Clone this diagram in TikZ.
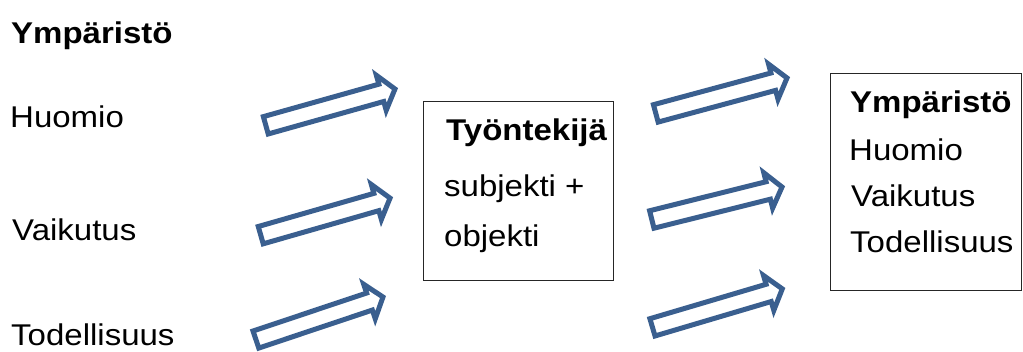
\documentclass[tikz,border=0pt]{standalone}
\usepackage{fontspec}
\setmainfont{Liberation Sans}[FakeStretch=1.1]
\usetikzlibrary{shapes.arrows}
\definecolor{arrowblue}{HTML}{3A5F8F}
\begin{document}
\begin{tikzpicture}[x=1pt,y=-1pt,
  txt/.style={anchor=base west, inner sep=0pt, font=\fontsize{30}{35}\selectfont},
  hdr/.style={anchor=base west, inner sep=0pt, font=\fontsize{30}{35}\selectfont\bfseries},
  frame/.style={draw=black!85, line width=1pt, inner sep=0pt},
  blockarrow/.style={single arrow, draw=arrowblue, fill=white, line width=5pt,
    inner xsep=0pt, inner ysep=6.5pt, single arrow head extend=9.2pt,
    single arrow tip angle=104, minimum width=0pt, anchor=center}]
\useasboundingbox (0,0) rectangle (1023,351);

% left column
\node[hdr] (envL) at (11,43) {Ympäristö};
\node[txt] (attL) at (10,127.3) {Huomio};
\node[txt] (effL) at (12,240) {Vaikutus};
\node[txt] (realL) at (11,345.5) {Todellisuus};

% worker box
\node[frame, minimum width=190pt, minimum height=179pt] (worker) at (518,190.5) {};
\node[hdr] (wT) at (446,140) {Työntekijä};
\node[txt] (wS) at (444,196) {subjekti +};
\node[txt] (wO) at (444,246) {objekti};

% environment box
\node[frame, minimum width=191pt, minimum height=217pt] (env) at (925.5,181.5) {};
\node[hdr] (eT) at (850,112) {Ympäristö};
\node[txt] (eH) at (849,160) {Huomio};
\node[txt] (eV) at (851,206.5) {Vaikutus};
\node[txt] (eR) at (850,252.7) {Todellisuus};

% block arrows
\node[blockarrow, rotate=15.7, minimum height=134.2pt] (a1) at (327.0,108.1) {};
\node[blockarrow, rotate=16.0, minimum height=134.5pt] (a2) at (322.0,217.6) {};
\node[blockarrow, rotate=18.5, minimum height=134.0pt] (a3) at (316.1,319.4) {};
\node[blockarrow, rotate=15.1, minimum height=135.9pt] (a4) at (718.0,96.6) {};
\node[blockarrow, rotate=14.0, minimum height=134.2pt] (a5) at (713.5,204.1) {};
\node[blockarrow, rotate=16.5, minimum height=135.4pt] (a6) at (714.0,309.1) {};
\end{tikzpicture}
\end{document}
